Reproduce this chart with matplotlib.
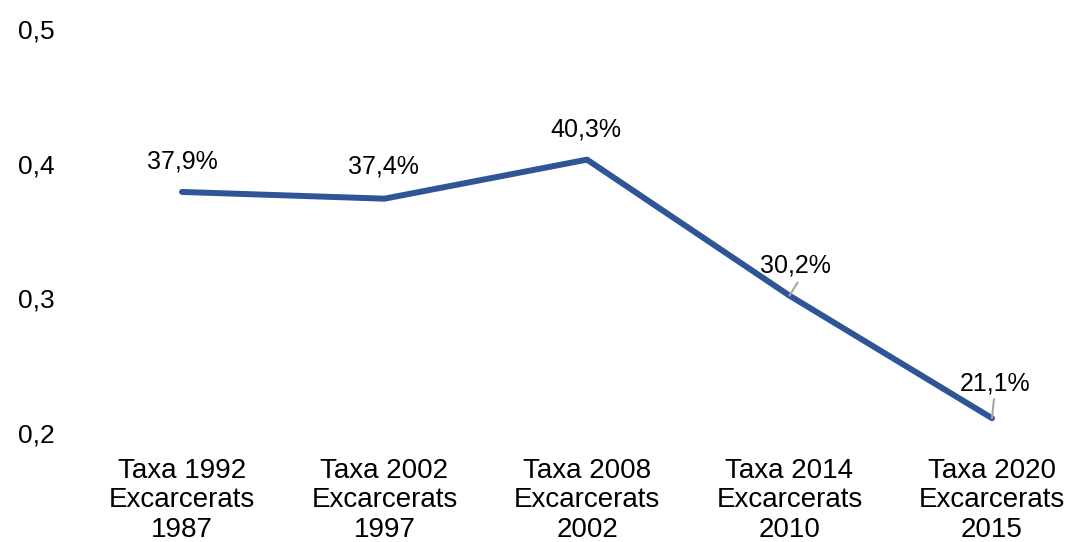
import matplotlib.pyplot as plt
from matplotlib.ticker import FuncFormatter

# categories and values
categories = ['Taxa 1992\nExcarcerats\n1987', 'Taxa 2002\nExcarcerats\n1997',
              'Taxa 2008\nExcarcerats\n2002', 'Taxa 2014\nExcarcerats\n2010',
              'Taxa 2020\nExcarcerats\n2015']
rates = [0.379, 0.374, 0.403, 0.302, 0.211]
labels = ['37,9%', '37,4%', '40,3%', '30,2%', '21,1%']
y_ticks = [0.2, 0.3, 0.4, 0.5]


def main():
    plt.rcParams['font.family'] = ['Liberation Sans', 'DejaVu Sans']
    fig = plt.figure(figsize=(10.73, 5.42), dpi=100)
    ax = fig.add_axes([80.75 / 1073, 109 / 542, 992.25 / 1073, 404 / 542])

    x = list(range(len(categories)))
    ax.plot(x, rates, color='#2F5597', linewidth=4.3, solid_capstyle='round')

    # data labels (offsets in points), last two with leader lines
    offsets = [(0, 21.6), (-1, 23), (-1, 21.6), (4, 21.6), (2.5, 25)]
    for i, (v, lab, off) in enumerate(zip(rates, labels, offsets)):
        ax.annotate(lab, (i, v), xytext=off, textcoords='offset points',
                    ha='center', va='center', fontsize=18, color='black')
    for i, (dx, dy) in [(3, (5.8, 9.4)), (4, (1.4, 13.7))]:
        ax.annotate('', (i, rates[i]), xytext=(dx, dy),
                    textcoords='offset points',
                    arrowprops=dict(arrowstyle='-', color='#A6A6A6', lw=1.5,
                                    shrinkA=0, shrinkB=0))

    ax.set_xlim(-0.5, 4.4)
    ax.set_ylim(0.2, 0.5)
    ax.set_xticks(x)
    ax.set_xticklabels(categories, fontsize=20, linespacing=1.17)
    ax.set_yticks(y_ticks)
    ax.yaxis.set_major_formatter(
        FuncFormatter(lambda v, p: f'{v:.1f}'.replace('.', ',')))
    ax.tick_params(axis='y', labelsize=19, length=0, pad=19)
    ax.tick_params(axis='x', length=0, pad=18)
    for s in ax.spines.values():
        s.set_visible(False)

    fig.savefig('out.png', dpi=100)


if __name__ == '__main__':
    main()
